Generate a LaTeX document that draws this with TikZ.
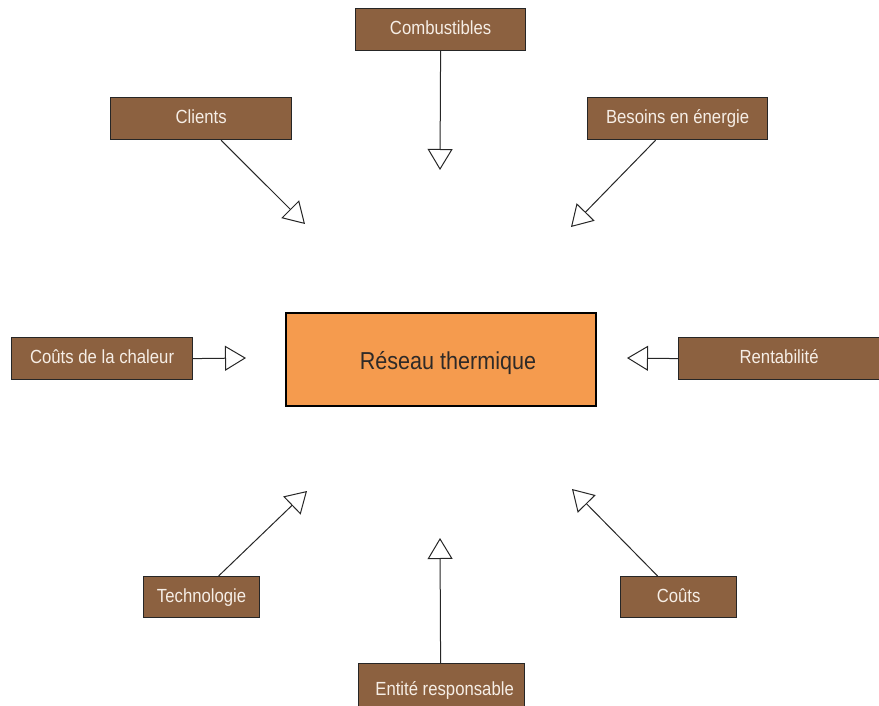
\documentclass[tikz,border=0pt]{standalone}
\usepackage{fontspec}
\setmainfont[FakeStretch=0.88]{Liberation Sans}
\usetikzlibrary{arrows.meta}
\definecolor{boxbrown}{HTML}{8C6140}
\definecolor{boxtext}{HTML}{F6EEE6}
\definecolor{centerorange}{HTML}{F59B4E}
\definecolor{centertext}{HTML}{2E2A28}
\begin{document}
\begin{tikzpicture}[x=1pt,y=1pt,
  factor/.style={draw=black!85, line width=1.2pt, fill=boxbrown, text=boxtext,
    font=\fontsize{19}{21}\selectfont, inner sep=0pt, anchor=north west,
    text height=14pt, text depth=3.5pt},
  center/.style={draw=black, line width=2pt, fill=centerorange, text=centertext,
    font=\fontsize{24.5}{27}\selectfont, inner sep=0pt, anchor=north west,
    text height=20pt, text depth=1pt},
  link/.style={draw=black!85, line width=1pt,
    -{Triangle[open, length=21pt, width=25pt, line width=1pt]}}]
\useasboundingbox (0,0) rectangle (879,-706);
\clip (0,0) rectangle (879,-706);
% central node
\node[center, minimum width=310pt, minimum height=93pt] (res) at (285,-312) {\hspace*{14pt}Réseau thermique};
% factor boxes
\node[factor, minimum width=170pt, minimum height=42pt] (comb) at (355,-8) {Combustibles};
\node[factor, minimum width=181pt, minimum height=42pt] (cli) at (110,-97) {Clients};
\node[factor, minimum width=180pt, minimum height=42pt] (bes) at (587,-97) {Besoins en énergie};
\node[factor, minimum width=181pt, minimum height=42pt] (cch) at (11,-337) {Coûts de la chaleur};
\node[factor, minimum width=210pt, minimum height=42pt, text width=198pt, align=left] (ren) at (678,-337) {\hspace*{55pt}Rentabilité};
\node[factor, minimum width=116pt, minimum height=41pt] (tec) at (143,-576) {Technologie};
\node[factor, minimum width=116pt, minimum height=41pt] (cou) at (620,-576) {Coûts};
\node[factor, minimum width=166pt, minimum height=50pt, text depth=0pt] (ent) at (358,-663) {\hspace*{6pt}Entité responsable};
% arrow tips
\coordinate (tcomb) at (440,-170);
\coordinate (tcli) at (305,-224);
\coordinate (tbes) at (571,-227);
\coordinate (tcch) at (246,-358);
\coordinate (tren) at (627,-358);
\coordinate (ttec) at (307,-491);
\coordinate (tcou) at (572,-489);
\coordinate (tent) at (440,-538);
% connectors
\draw[link] (comb.south) -- (tcomb);
\draw[link] ([xshift=20pt]cli.south) -- (tcli);
\draw[link] ([xshift=-22pt]bes.south) -- (tbes);
\draw[link] (cch.east) -- (tcch);
\draw[link] (ren.west) -- (tren);
\draw[link] ([xshift=17pt]tec.north) -- (ttec);
\draw[link] ([xshift=-21pt]cou.north) -- (tcou);
\draw[link] ([xshift=-1pt]ent.north) -- (tent);
\end{tikzpicture}
\end{document}
